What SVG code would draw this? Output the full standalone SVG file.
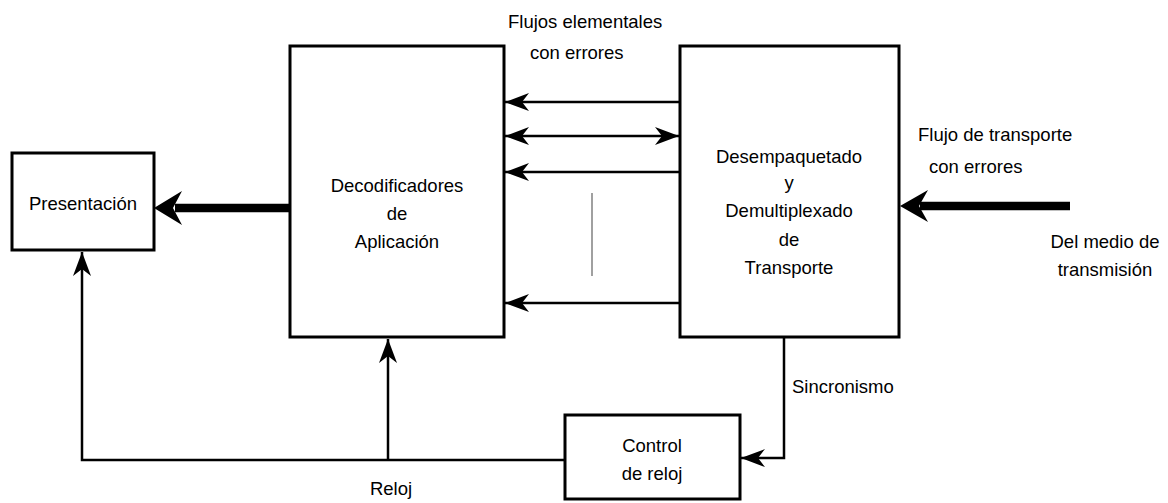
<svg xmlns="http://www.w3.org/2000/svg" width="1168" height="503" viewBox="0 0 1168 503">
<defs>
<style>
.box{fill:#fff;stroke:#000;stroke-width:3}
.t{font-family:"Liberation Sans",Arial,sans-serif;font-size:18.5px;fill:#000}
.m{text-anchor:middle}
.ln{fill:none;stroke:#000;stroke-width:2.5}
.thick{fill:none;stroke:#000;stroke-width:8.5}
</style>
<marker id="ah" viewBox="0 0 24 20" refX="24" refY="10" markerWidth="24" markerHeight="20" markerUnits="userSpaceOnUse" orient="auto-start-reverse">
<path d="M24,10 L0,1 L7,10 L0,19 Z" fill="#000"/>
</marker>
</defs>
<rect width="1168" height="503" fill="#fff"/>
<g id="presentacion">
<rect class="box" x="12" y="153" width="142" height="97"/>
<text class="t m" x="83" y="210">Presentación</text>
</g>
<g id="decodificadores">
<rect class="box" x="290" y="46" width="214" height="291"/>
<text class="t m" x="397" y="192">Decodificadores</text>
<text class="t m" x="397" y="220">de</text>
<text class="t m" x="397" y="248">Aplicación</text>
</g>
<g id="demux">
<rect class="box" x="680" y="46" width="219" height="291"/>
<text class="t m" x="789" y="163">Desempaquetado</text>
<text class="t m" x="789" y="189">y</text>
<text class="t m" x="789" y="217">Demultiplexado</text>
<text class="t m" x="789" y="246">de</text>
<text class="t m" x="789" y="274">Transporte</text>
</g>
<g id="control">
<rect class="box" x="565" y="415" width="175" height="84"/>
<text class="t m" x="652" y="452">Control</text>
<text class="t m" x="652" y="480">de reloj</text>
</g>
<g id="connectors">
<line class="ln" x1="680" y1="102" x2="505" y2="102" marker-end="url(#ah)"/>
<line class="ln" x1="505" y1="136" x2="679" y2="136" marker-start="url(#ah)" marker-end="url(#ah)"/>
<line class="ln" x1="680" y1="172" x2="505" y2="172" marker-end="url(#ah)"/>
<line class="ln" x1="680" y1="303" x2="505" y2="303" marker-end="url(#ah)"/>
<line x1="592" y1="193" x2="592" y2="276" stroke="#808080" stroke-width="1.5"/>
<line class="thick" x1="290" y1="208" x2="175" y2="208"/>
<path d="M154,208 L182,191 L173,208 L182,225 Z" fill="#000"/>
<line class="thick" x1="1070" y1="206" x2="920" y2="206"/>
<path d="M900,206 L928,190 L919,206 L928,222 Z" fill="#000"/>
<polyline class="ln" points="565,460 82,460 82,252" marker-end="url(#ah)"/>
<line class="ln" x1="388" y1="460" x2="388" y2="339" marker-end="url(#ah)"/>
<polyline class="ln" points="784,337 784,458 741,458" marker-end="url(#ah)"/>
<text class="t" x="508" y="28">Flujos elementales</text>
<text class="t" x="530" y="59">con errores</text>
<text class="t" x="918" y="141">Flujo de transporte</text>
<text class="t" x="929" y="173">con errores</text>
<text class="t m" x="1105" y="248">Del medio de</text>
<text class="t m" x="1105" y="276">transmisión</text>
<text class="t" x="792" y="393">Sincronismo</text>
<text class="t m" x="391" y="495">Reloj</text>
</g>
</svg>
